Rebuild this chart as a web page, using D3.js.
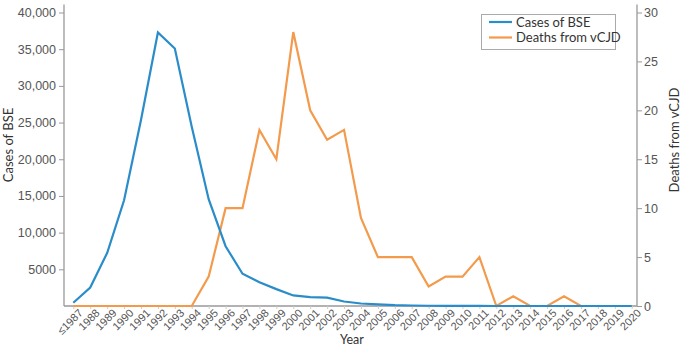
<!DOCTYPE html>
<html>
<head>
<meta charset="utf-8">
<script src="https://cdn.jsdelivr.net/npm/d3@7"></script>
<style>
  body { margin: 0; background: #fff; }
  svg { font-family: Lato, "Open Sans", sans-serif; }
  .tick text { fill: #555; }
</style>
</head>
<body>
<div id="chart"></div>
<script>
// data
const years = ["≤1987", "1988", "1989", "1990", "1991", "1992", "1993", "1994", "1995", "1996",
  "1997", "1998", "1999", "2000", "2001", "2002", "2003", "2004", "2005", "2006", "2007",
  "2008", "2009", "2010", "2011", "2012", "2013", "2014", "2015", "2016", "2017", "2018",
  "2019", "2020"];
const bseCases = [446, 2514, 7228, 14407, 25359, 37280, 35090, 24438, 14562, 8149,
  4393, 3235, 2301, 1443, 1202, 1144, 611, 343, 225, 114, 67,
  37, 12, 11, 7, 3, 3, 1, 2, 0, 0, 1, 0, 0];
const vcjdDeaths = [0, 0, 0, 0, 0, 0, 0, 0, 3, 10,
  10, 18, 15, 28, 20, 17, 18, 9, 5, 5, 5,
  2, 3, 3, 5, 0, 1, 0, 0, 1, 0, 0, 0, 0];
const leftTicks = [5000, 10000, 15000, 20000, 25000, 30000, 35000, 40000];
const rightTicks = [0, 5, 10, 15, 20, 25, 30];

const width = 682, height = 347;
const axisL = 64, axisR = 637, yTop = 12.5, yBottom = 306;
const blue = "#2a8cc8", orange = "#f39a4c", axisGrey = "#999";

const svg = d3.select("#chart").append("svg")
  .attr("width", width)
  .attr("height", height);

let x = d3.scalePoint().domain(years).range([73.3, 631.7]);
let yL = d3.scaleLinear().domain([0, 40000]).range([yBottom, yTop]);
let yR = d3.scaleLinear().domain([0, 30]).range([yBottom, yTop]);

// left axis
const gL = svg.append("g")
  .attr("transform", `translate(${axisL},0)`)
  .call(d3.axisLeft(yL).tickValues(leftTicks).tickSize(5).tickPadding(3)
    .tickFormat(d => d >= 10000 ? d3.format(",")(d) : d));
gL.select(".domain").attr("d", `M0,${yBottom}V${yTop - 8}`);

// right axis
const gR = svg.append("g")
  .attr("transform", `translate(${axisR},0)`)
  .call(d3.axisRight(yR).tickValues(rightTicks).tickSize(5).tickPadding(2));
gR.select(".domain").attr("d", `M0,${yBottom}V${yTop - 8}`);

// bottom axis
const gB = svg.append("g")
  .attr("transform", `translate(0,${yBottom})`)
  .call(d3.axisBottom(x).tickSize(3).tickPadding(2));
gB.select(".domain").attr("d", `M${axisL},0H${axisR}`);
gB.selectAll(".tick line").attr("stroke", "#ccc");
gB.selectAll(".tick text")
  .attr("text-anchor", "end")
  .attr("transform", "translate(5,3) rotate(-45)")
  .attr("dy", "0.6em")
  .attr("y", 0)
  .style("font-size", "11px");

[gL, gR].forEach(g => {
  g.selectAll(".tick text").style("font-size", "12.5px");
});
[gL, gR, gB].forEach(g => {
  g.select(".domain").attr("stroke", axisGrey).attr("stroke-width", 1.3);
});
[gL, gR].forEach(g => g.selectAll(".tick line").attr("stroke", axisGrey));

// axis titles
svg.append("text")
  .attr("transform", `translate(13,145) rotate(-90)`)
  .attr("text-anchor", "middle")
  .style("font-size", "13px")
  .style("fill", "#333")
  .text("Cases of BSE");

svg.append("text")
  .attr("transform", `translate(679,140) rotate(-90)`)
  .attr("text-anchor", "middle")
  .style("font-size", "13px")
  .style("fill", "#333")
  .text("Deaths from vCJD");

svg.append("text")
  .attr("x", 352)
  .attr("y", 344)
  .attr("text-anchor", "middle")
  .style("font-size", "12.5px")
  .style("fill", "#333")
  .text("Year");

// lines
const bseLine = d3.line()
  .x((d, i) => x(years[i]))
  .y(d => yL(d));
const vcjdLine = d3.line()
  .x((d, i) => x(years[i]))
  .y(d => yR(d));

svg.append("path")
  .datum(vcjdDeaths)
  .attr("d", vcjdLine)
  .attr("fill", "none")
  .attr("stroke", orange)
  .attr("stroke-width", 2.2)
  .attr("stroke-linejoin", "miter");

svg.append("path")
  .datum(bseCases)
  .attr("d", bseLine)
  .attr("fill", "none")
  .attr("stroke", blue)
  .attr("stroke-width", 2.2)
  .attr("stroke-linejoin", "miter");

// legend
const legend = svg.append("g");
legend.append("rect")
  .attr("x", 481.5).attr("y", 14.5)
  .attr("width", 134).attr("height", 35)
  .attr("fill", "#fff")
  .attr("stroke", "#aaa");
const items = [["Cases of BSE", blue], ["Deaths from vCJD", orange]];
items.forEach((it, i) => {
  legend.append("line")
    .attr("x1", 489).attr("x2", 512)
    .attr("y1", 22 + i * 15.5).attr("y2", 22 + i * 15.5)
    .attr("stroke", it[1]).attr("stroke-width", 2.2);
  legend.append("text")
    .attr("x", 516).attr("y", 22 + i * 15.5)
    .attr("dy", "0.35em")
    .style("font-size", "13px")
    .style("fill", "#333")
    .text(it[0]);
});
</script>
</body>
</html>
